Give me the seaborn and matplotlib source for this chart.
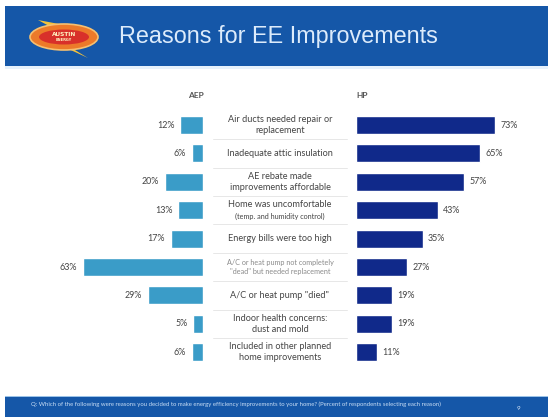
import matplotlib
matplotlib.use("Agg")
import matplotlib.pyplot as plt
import matplotlib.transforms as mtransforms
from matplotlib.patches import Rectangle, Ellipse, Polygon
import seaborn as sns
import pandas as pd

# ---- data -------------------------------------------------------------
reasons = [
    "Air ducts needed repair or\nreplacement",
    "Inadequate attic insulation",
    "AE rebate made\nimprovements affordable",
    "Home was uncomfortable\n(temp. and humidity control)",
    "Energy bills were too high",
    "A/C or heat pump not completely\n\"dead\" but needed replacement",
    "A/C or heat pump \"died\"",
    "Indoor health concerns:\ndust and mold",
    "Included in other planned\nhome improvements",
]
aep_pct = [12, 6, 20, 13, 17, 63, 29, 5, 6]
hp_pct = [73, 65, 57, 43, 35, 27, 19, 19, 11]
group_names = ["AEP", "HP"]
title = "Reasons for EE Improvements"
footnote = ("Q: Which of the following were reasons you decided to make energy efficiency "
            "improvements to your home? (Percent of respondents selecting each reason)")

df = pd.DataFrame({"reason": reasons, "AEP": aep_pct, "HP": hp_pct})

# ---- styling ----------------------------------------------------------
sns.set_style("white")
plt.rcParams["font.family"] = ["Lato", "DejaVu Sans"]

W, H = 548, 417
AEP_COLOR = "#3a9cc8"
HP_COLOR = "#10298a"
BAND_COLOR = "#1557a8"
TEXT_GREY = "#444444"


def fx(x):
    return x / W


def fy(y):
    return 1 - y / H


fig = plt.figure(figsize=(W / 100, H / 100), dpi=100)
fig.patch.set_facecolor("white")

# header band
fig.add_artist(Rectangle((fx(5), fy(66)), 1 - fx(5), (66 - 6) / H,
                         transform=fig.transFigure, facecolor=BAND_COLOR,
                         edgecolor="none", zorder=0))
fig.add_artist(Rectangle((fx(5), fy(69)), 1 - fx(5), 3 / H,
                         transform=fig.transFigure, facecolor="#e6f1fb",
                         edgecolor="none", zorder=0))
fig.text(fx(119), fy(37), title, family="Liberation Sans", fontsize=16.8,
         color="#dcebfb", ha="left", va="center")

# logo: orange oval with a lightning flash
fig.add_artist(Polygon([(fx(38), fy(20)), (fx(80), fy(28)), (fx(60), fy(32))],
                       closed=True, transform=fig.transFigure,
                       facecolor="#f3c23a", edgecolor="none"))
fig.add_artist(Polygon([(fx(62), fy(46)), (fx(88), fy(58)), (fx(70), fy(47))],
                       closed=True, transform=fig.transFigure,
                       facecolor="#f3c23a", edgecolor="none"))
fig.add_artist(Ellipse((fx(64), fy(37)), 68 / W, 26 / H,
                       transform=fig.transFigure, facecolor="#ec7a2a",
                       edgecolor="#f6c070", lw=1.2))
fig.add_artist(Ellipse((fx(64), fy(37)), 50 / W, 15 / H,
                       transform=fig.transFigure, facecolor="#d8302a",
                       edgecolor="none"))
fig.text(fx(64), fy(34.5), "AUSTIN", fontsize=4.2, color="#fff2c0",
         weight="bold", ha="center", va="center", family="DejaVu Sans")
fig.text(fx(64), fy(40), "ENERGY", fontsize=2.6, color="#fff2c0",
         weight="bold", ha="center", va="center", family="DejaVu Sans")

# footer band
fig.add_artist(Rectangle((fx(5), 0), 1 - fx(5), (417 - 397) / H,
                         transform=fig.transFigure, facecolor=BAND_COLOR,
                         edgecolor="none", zorder=0))
fig.add_artist(Rectangle((fx(5), fy(397)), 1 - fx(5), 1.5 / H,
                         transform=fig.transFigure, facecolor="#9cc3e8",
                         edgecolor="none", zorder=0))
fig.text(fx(31), fy(404.5), footnote, fontsize=4.3, color="#c9def5",
         ha="left", va="center")
fig.text(fx(518), fy(408), "9", fontsize=4.5, color="#dbe9fa",
         ha="center", va="center")

# ---- bar panels -------------------------------------------------------
row_top, row_bot = 110.8, 366.4
ax_bottom = fy(row_bot)
ax_height = (row_bot - row_top) / H

axL = fig.add_axes([fx(60), ax_bottom, fx(203) - fx(60), ax_height])
axR = fig.add_axes([fx(356), ax_bottom, fx(527) - fx(356), ax_height])

sns.barplot(data=df, x="AEP", y="reason", orient="h", color=AEP_COLOR,
            width=0.63, ax=axL, saturation=1)
sns.barplot(data=df, x="HP", y="reason", orient="h", color=HP_COLOR,
            width=0.63, ax=axR, saturation=1)

axL.set_xlim(75, 0)
axR.set_xlim(0, 90)
for ax in (axL, axR):
    ax.set_ylim(len(reasons) - 0.5, -0.5)
    ax.axis("off")

for i, v in enumerate(aep_pct):
    axL.annotate(f"{v}%", (v, i), xytext=(-4, 0), textcoords="offset points",
                 ha="right", va="center", fontsize=6.4, color=TEXT_GREY)
for i, v in enumerate(hp_pct):
    axR.annotate(f"{v}%", (v, i), xytext=(4, 0), textcoords="offset points",
                 ha="left", va="center", fontsize=6.4, color=TEXT_GREY)

# group headings
fig.text(fx(196), fy(96), group_names[0], fontsize=6, weight="bold",
         color="#555555", ha="center", va="center")
fig.text(fx(362), fy(96), group_names[1], fontsize=6, weight="bold",
         color="#555555", ha="center", va="center")

# centre labels with thin separators
tr = mtransforms.blended_transform_factory(fig.transFigure, axL.transData)
for i, lab in enumerate(reasons):
    if i == 5:
        fig.text(fx(280), i, lab, transform=tr, fontsize=5.2, color="#8a8a8a",
                 ha="center", va="center", linespacing=1.3)
    elif i == 3:
        first, second = lab.split("\n")
        fig.text(fx(280), i - 0.2, first, transform=tr, fontsize=6.6,
                 color=TEXT_GREY, ha="center", va="center")
        fig.text(fx(280), i + 0.23, second, transform=tr, fontsize=5.2,
                 color=TEXT_GREY, ha="center", va="center")
    else:
        fig.text(fx(280), i, lab, transform=tr, fontsize=6.6, color=TEXT_GREY,
                 ha="center", va="center", linespacing=1.25)
    if i < len(reasons) - 1:
        fig.add_artist(plt.Line2D([fx(213), fx(347)], [i + 0.5, i + 0.5],
                                  transform=tr, color="#e3e3e3", lw=0.6))

fig.savefig("out.png", dpi=100)
